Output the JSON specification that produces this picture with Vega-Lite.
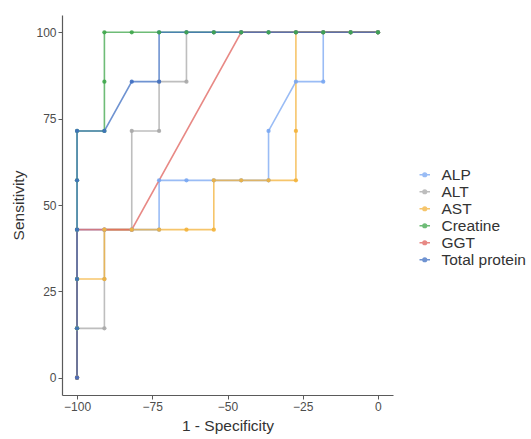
{
  "$schema": "https://vega.github.io/schema/vega-lite/v6.json",
  "width": 331,
  "height": 380,
  "autosize": "none",
  "padding": {"left": 62, "top": 15, "right": 138, "bottom": 44},
  "background": "white",
  "config": {
    "view": {"stroke": null},
    "font": "Liberation Sans",
    "axis": {
      "grid": false,
      "domainColor": "#5a5a5a",
      "domainWidth": 1.2,
      "tickColor": "#5a5a5a",
      "tickSize": 4,
      "labelColor": "#4d4d4d",
      "labelFontSize": 12,
      "titleFontSize": 15.5,
      "titleFontWeight": "normal",
      "titleColor": "#333333"
    }
  },
  "data": {
    "values": [
      {"s": "ALP", "i": 1, "x": -100, "y": 0},
      {"s": "ALP", "i": 2, "x": -100, "y": 14.29},
      {"s": "ALP", "i": 3, "x": -100, "y": 28.57},
      {"s": "ALP", "i": 4, "x": -100, "y": 42.86},
      {"s": "ALP", "i": 5, "x": -90.91, "y": 42.86},
      {"s": "ALP", "i": 6, "x": -81.82, "y": 42.86},
      {"s": "ALP", "i": 7, "x": -72.73, "y": 42.86},
      {"s": "ALP", "i": 8, "x": -72.73, "y": 57.14},
      {"s": "ALP", "i": 9, "x": -63.64, "y": 57.14},
      {"s": "ALP", "i": 10, "x": -54.55, "y": 57.14},
      {"s": "ALP", "i": 11, "x": -45.45, "y": 57.14},
      {"s": "ALP", "i": 12, "x": -36.36, "y": 57.14},
      {"s": "ALP", "i": 13, "x": -36.36, "y": 71.43},
      {"s": "ALP", "i": 14, "x": -27.27, "y": 85.71},
      {"s": "ALP", "i": 15, "x": -18.18, "y": 85.71},
      {"s": "ALP", "i": 16, "x": -18.18, "y": 100},
      {"s": "ALP", "i": 17, "x": -9.09, "y": 100},
      {"s": "ALP", "i": 18, "x": 0, "y": 100},

      {"s": "ALT", "i": 1, "x": -100, "y": 0},
      {"s": "ALT", "i": 2, "x": -100, "y": 14.29},
      {"s": "ALT", "i": 3, "x": -90.91, "y": 14.29},
      {"s": "ALT", "i": 4, "x": -90.91, "y": 28.57},
      {"s": "ALT", "i": 5, "x": -90.91, "y": 42.86},
      {"s": "ALT", "i": 6, "x": -81.82, "y": 42.86},
      {"s": "ALT", "i": 7, "x": -81.82, "y": 71.43},
      {"s": "ALT", "i": 8, "x": -72.73, "y": 71.43},
      {"s": "ALT", "i": 9, "x": -72.73, "y": 85.71},
      {"s": "ALT", "i": 10, "x": -63.64, "y": 85.71},
      {"s": "ALT", "i": 11, "x": -63.64, "y": 100},
      {"s": "ALT", "i": 12, "x": -54.55, "y": 100},
      {"s": "ALT", "i": 13, "x": -45.45, "y": 100},
      {"s": "ALT", "i": 14, "x": -36.36, "y": 100},
      {"s": "ALT", "i": 15, "x": -27.27, "y": 100},
      {"s": "ALT", "i": 16, "x": -18.18, "y": 100},
      {"s": "ALT", "i": 17, "x": -9.09, "y": 100},
      {"s": "ALT", "i": 18, "x": 0, "y": 100},

      {"s": "AST", "i": 1, "x": -100, "y": 0},
      {"s": "AST", "i": 2, "x": -100, "y": 14.29},
      {"s": "AST", "i": 3, "x": -100, "y": 28.57},
      {"s": "AST", "i": 4, "x": -90.91, "y": 28.57},
      {"s": "AST", "i": 5, "x": -90.91, "y": 42.86},
      {"s": "AST", "i": 6, "x": -81.82, "y": 42.86},
      {"s": "AST", "i": 7, "x": -72.73, "y": 42.86},
      {"s": "AST", "i": 8, "x": -63.64, "y": 42.86},
      {"s": "AST", "i": 9, "x": -54.55, "y": 42.86},
      {"s": "AST", "i": 10, "x": -54.55, "y": 57.14},
      {"s": "AST", "i": 11, "x": -45.45, "y": 57.14},
      {"s": "AST", "i": 12, "x": -36.36, "y": 57.14},
      {"s": "AST", "i": 13, "x": -27.27, "y": 57.14},
      {"s": "AST", "i": 14, "x": -27.27, "y": 71.43},
      {"s": "AST", "i": 15, "x": -27.27, "y": 100},
      {"s": "AST", "i": 16, "x": -18.18, "y": 100},
      {"s": "AST", "i": 17, "x": -9.09, "y": 100},
      {"s": "AST", "i": 18, "x": 0, "y": 100},

      {"s": "Creatine", "i": 1, "x": -100, "y": 0},
      {"s": "Creatine", "i": 2, "x": -100, "y": 14.29},
      {"s": "Creatine", "i": 3, "x": -100, "y": 28.57},
      {"s": "Creatine", "i": 4, "x": -100, "y": 42.86},
      {"s": "Creatine", "i": 5, "x": -100, "y": 57.14},
      {"s": "Creatine", "i": 6, "x": -100, "y": 71.43},
      {"s": "Creatine", "i": 7, "x": -90.91, "y": 71.43},
      {"s": "Creatine", "i": 8, "x": -90.91, "y": 85.71},
      {"s": "Creatine", "i": 9, "x": -90.91, "y": 100},
      {"s": "Creatine", "i": 10, "x": -81.82, "y": 100},
      {"s": "Creatine", "i": 11, "x": -72.73, "y": 100},
      {"s": "Creatine", "i": 12, "x": -63.64, "y": 100},
      {"s": "Creatine", "i": 13, "x": -54.55, "y": 100},
      {"s": "Creatine", "i": 14, "x": -45.45, "y": 100},
      {"s": "Creatine", "i": 15, "x": -36.36, "y": 100},
      {"s": "Creatine", "i": 16, "x": -27.27, "y": 100},
      {"s": "Creatine", "i": 17, "x": -18.18, "y": 100},
      {"s": "Creatine", "i": 18, "x": -9.09, "y": 100},
      {"s": "Creatine", "i": 19, "x": 0, "y": 100},

      {"s": "GGT", "i": 1, "x": -100, "y": 0},
      {"s": "GGT", "i": 2, "x": -100, "y": 42.86},
      {"s": "GGT", "i": 3, "x": -90.91, "y": 42.86},
      {"s": "GGT", "i": 4, "x": -81.82, "y": 42.86},
      {"s": "GGT", "i": 5, "x": -45.45, "y": 100},
      {"s": "GGT", "i": 6, "x": 0, "y": 100},

      {"s": "Total protein", "i": 1, "x": -100, "y": 0},
      {"s": "Total protein", "i": 2, "x": -100, "y": 14.29},
      {"s": "Total protein", "i": 3, "x": -100, "y": 28.57},
      {"s": "Total protein", "i": 4, "x": -100, "y": 42.86},
      {"s": "Total protein", "i": 5, "x": -100, "y": 57.14},
      {"s": "Total protein", "i": 6, "x": -100, "y": 71.43},
      {"s": "Total protein", "i": 7, "x": -90.91, "y": 71.43},
      {"s": "Total protein", "i": 8, "x": -81.82, "y": 85.71},
      {"s": "Total protein", "i": 9, "x": -72.73, "y": 85.71},
      {"s": "Total protein", "i": 10, "x": -72.73, "y": 100},
      {"s": "Total protein", "i": 11, "x": -63.64, "y": 100},
      {"s": "Total protein", "i": 12, "x": -54.55, "y": 100},
      {"s": "Total protein", "i": 13, "x": -45.45, "y": 100},
      {"s": "Total protein", "i": 14, "x": -36.36, "y": 100},
      {"s": "Total protein", "i": 15, "x": -27.27, "y": 100},
      {"s": "Total protein", "i": 16, "x": -18.18, "y": 100},
      {"s": "Total protein", "i": 17, "x": -9.09, "y": 100},
      {"s": "Total protein", "i": 18, "x": 0, "y": 100}
    ]
  },
  "encoding": {
    "x": {
      "field": "x", "type": "quantitative",
      "scale": {"domain": [-105, 5], "nice": false, "zero": false},
      "axis": {"values": [-100, -75, -50, -25, 0], "title": "1 - Specificity", "titlePadding": 6}
    },
    "y": {
      "field": "y", "type": "quantitative",
      "scale": {"domain": [-5, 105], "nice": false, "zero": false},
      "axis": {"values": [0, 25, 50, 75, 100], "title": "Sensitivity", "titlePadding": 9}
    },
    "color": {
      "field": "s", "type": "nominal",
      "scale": {
        "domain": ["ALP", "ALT", "AST", "Creatine", "GGT", "Total protein"],
        "range": ["#78a6f2", "#a8a8a8", "#f3b23a", "#3ea64a", "#e0625c", "#3f6fc2"]
      },
      "legend": {
        "title": null,
        "orient": "none",
        "legendX": 355,
        "legendY": 152,
        "labelFontSize": 15.5,
        "labelColor": "#333333",
        "symbolType": "M-1,0H1M-0.35,0A0.35,0.35 0 1,0 0.35,0A0.35,0.35 0 1,0 -0.35,0Z",
        "symbolSize": 110,
        "symbolStrokeWidth": 1.5,
        "rowPadding": -0.5,
        "labelOffset": 9
      }
    },
    "order": {"field": "i", "type": "quantitative"}
  },
  "layer": [
    {"mark": {"type": "line", "strokeWidth": 1.6, "opacity": 0.75}},
    {"mark": {"type": "circle", "size": 18, "opacity": 0.9}}
  ]
}
